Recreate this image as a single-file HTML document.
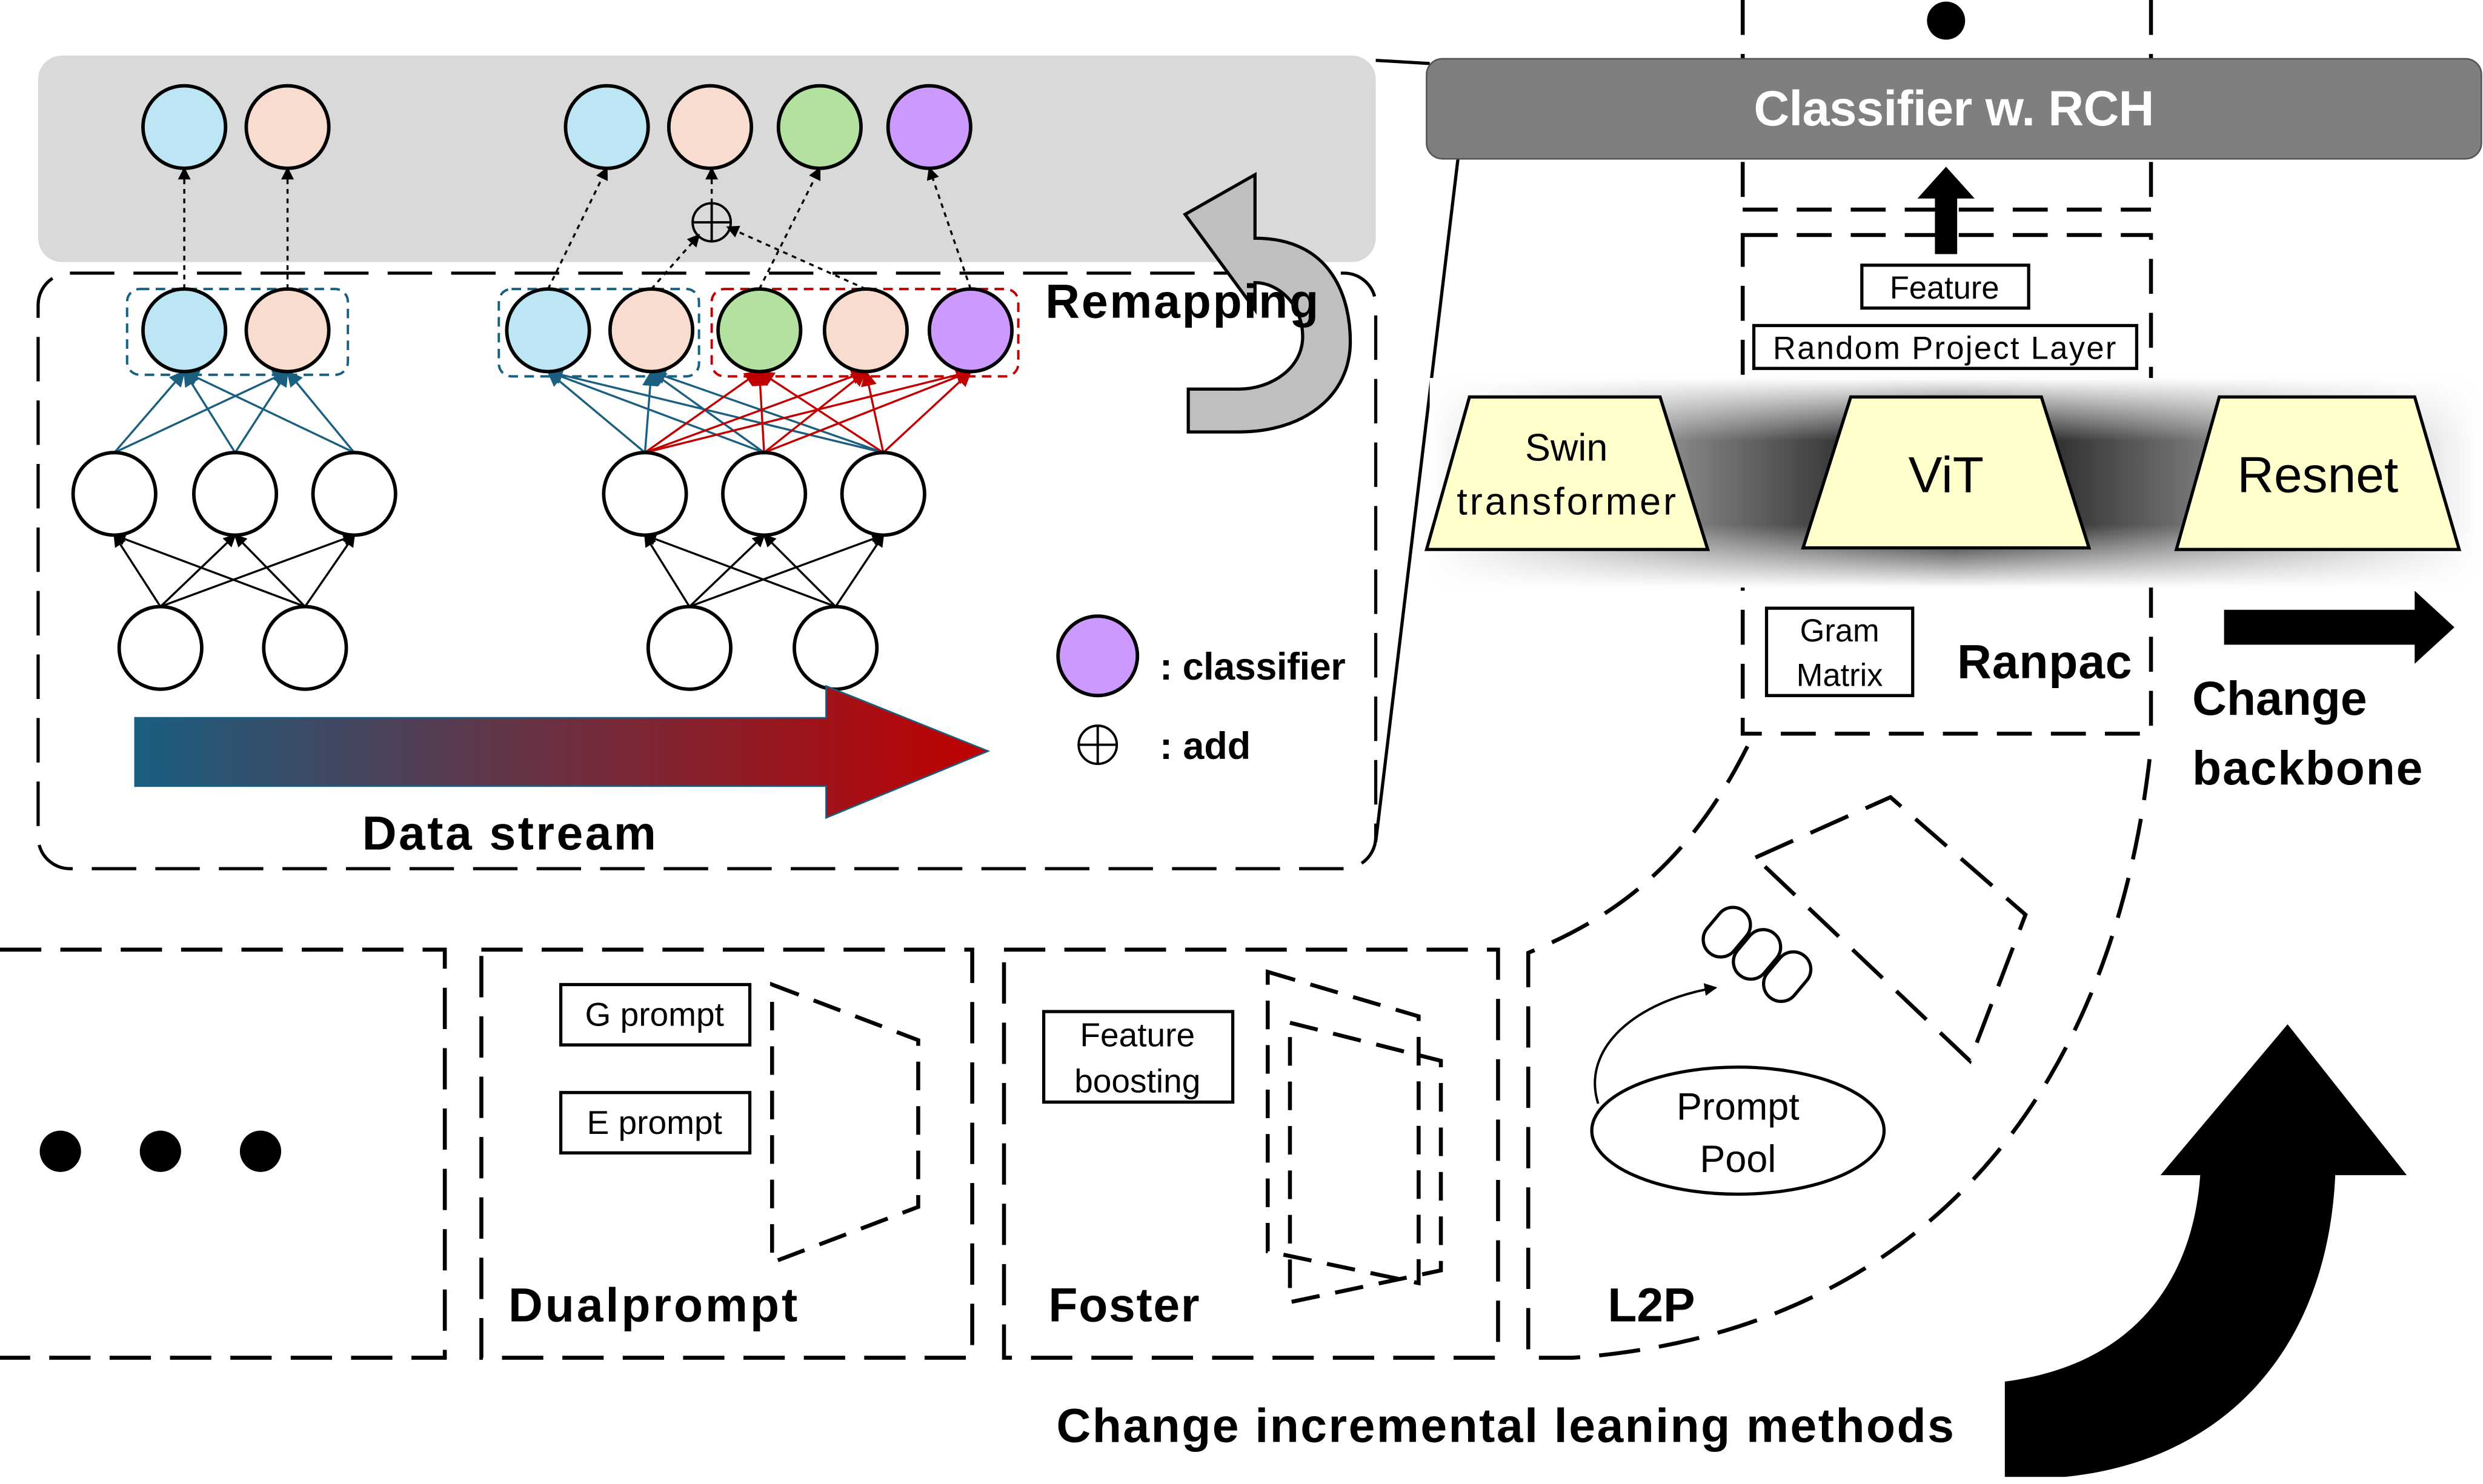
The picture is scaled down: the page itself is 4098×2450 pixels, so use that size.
<!DOCTYPE html>
<html><head><meta charset="utf-8"><style>html,body{margin:0;padding:0;background:#fff}svg{display:block}text{font-family:"Liberation Sans","DejaVu Sans",sans-serif}</style></head><body>
<svg width="4098" height="2450" viewBox="0 0 1563 934.5" preserveAspectRatio="none" xmlns="http://www.w3.org/2000/svg">
<defs>
<linearGradient id="ds" x1="0" x2="1" y1="0" y2="0"><stop offset="0" stop-color="#1a5e80"/><stop offset="1" stop-color="#c00000"/></linearGradient>
<linearGradient id="bandH" x1="0" x2="1"><stop offset="0" stop-color="#fff"/><stop offset="0.2" stop-color="#999"/><stop offset="0.5" stop-color="#000"/><stop offset="0.8" stop-color="#999"/><stop offset="1" stop-color="#fff"/></linearGradient>
<linearGradient id="bandV" x1="0" x2="0" y1="0" y2="1"><stop offset="0" stop-color="#fff" stop-opacity="1"/><stop offset="0.3" stop-color="#fff" stop-opacity="0"/><stop offset="0.7" stop-color="#fff" stop-opacity="0"/><stop offset="1" stop-color="#fff" stop-opacity="1"/></linearGradient>
<marker id="ab" markerWidth="8" markerHeight="8" refX="7" refY="4" orient="auto" markerUnits="userSpaceOnUse"><path d="M0,0 L8,4 L0,8 z" fill="#000"/></marker>
<marker id="abl" markerWidth="10" markerHeight="10" refX="9" refY="5" orient="auto" markerUnits="userSpaceOnUse"><path d="M0,0 L10,5 L0,10 z" fill="#1a5e80"/></marker>
<marker id="ar" markerWidth="10" markerHeight="10" refX="9" refY="5" orient="auto" markerUnits="userSpaceOnUse"><path d="M0,0 L10,5 L0,10 z" fill="#c00000"/></marker>
</defs>

<rect x="24" y="35" width="842" height="130" rx="15" fill="#d9d9d9"/>
<rect x="24" y="172" width="842" height="375" rx="20" fill="none" stroke="#000" stroke-width="2" stroke-dasharray="28,12"/>
<line x1="866" y1="38" x2="900" y2="40" stroke="#000" stroke-width="2"/>
<line x1="866" y1="530" x2="918" y2="98" stroke="#000" stroke-width="2"/>

<g stroke-width="1.3">
<g stroke="#1a5e80" marker-end="url(#abl)">
<line x1="72" y1="285" x2="116" y2="234"/><line x1="72" y1="285" x2="181" y2="234"/>
<line x1="148" y1="285" x2="116" y2="234"/><line x1="148" y1="285" x2="181" y2="234"/>
<line x1="223" y1="285" x2="116" y2="234"/><line x1="223" y1="285" x2="181" y2="234"/>
</g>
<g stroke="#000" marker-end="url(#ab)">
<line x1="101" y1="382" x2="72" y2="337"/><line x1="101" y1="382" x2="148" y2="337"/><line x1="101" y1="382" x2="223" y2="337"/>
<line x1="192" y1="382" x2="72" y2="337"/><line x1="192" y1="382" x2="148" y2="337"/><line x1="192" y1="382" x2="223" y2="337"/>
<line x1="434" y1="382" x2="406" y2="337"/><line x1="434" y1="382" x2="481" y2="337"/><line x1="434" y1="382" x2="556" y2="337"/>
<line x1="526" y1="382" x2="406" y2="337"/><line x1="526" y1="382" x2="481" y2="337"/><line x1="526" y1="382" x2="556" y2="337"/>
</g>
<g stroke="#1a5e80" marker-end="url(#abl)">
<line x1="406" y1="285" x2="345" y2="234"/><line x1="406" y1="285" x2="410" y2="234"/>
<line x1="481" y1="285" x2="345" y2="234"/><line x1="481" y1="285" x2="410" y2="234"/>
<line x1="556" y1="285" x2="345" y2="234"/><line x1="556" y1="285" x2="410" y2="234"/>
</g>
<g stroke="#c00000" marker-end="url(#ar)">
<line x1="406" y1="285" x2="478" y2="234"/><line x1="406" y1="285" x2="545" y2="234"/><line x1="406" y1="285" x2="611" y2="234"/>
<line x1="481" y1="285" x2="478" y2="234"/><line x1="481" y1="285" x2="545" y2="234"/><line x1="481" y1="285" x2="611" y2="234"/>
<line x1="556" y1="285" x2="478" y2="234"/><line x1="556" y1="285" x2="545" y2="234"/><line x1="556" y1="285" x2="611" y2="234"/>
</g>
<g stroke="#000" stroke-dasharray="3,3" marker-end="url(#ab)">
<line x1="116" y1="182" x2="116" y2="106"/><line x1="181" y1="182" x2="181" y2="106"/>
<line x1="345" y1="182" x2="382" y2="106"/><line x1="410" y1="182" x2="440" y2="148"/>
<line x1="478" y1="182" x2="516" y2="106"/><line x1="545" y1="182" x2="458" y2="143"/>
<line x1="611" y1="182" x2="585" y2="106"/><line x1="448" y1="128" x2="448" y2="106"/>
</g>
</g>
<rect x="80" y="182" width="139" height="54" rx="8" fill="none" stroke="#1a5e80" stroke-width="1.5" stroke-dasharray="6,4"/>
<rect x="314" y="182" width="126" height="55" rx="8" fill="none" stroke="#1a5e80" stroke-width="1.5" stroke-dasharray="6,4"/>
<rect x="448" y="182" width="193" height="55" rx="8" fill="none" stroke="#c00000" stroke-width="1.5" stroke-dasharray="6,4"/>
<g stroke="#000" stroke-width="2.2">
<circle cx="116" cy="80" r="26" fill="#bde6f5"/><circle cx="181" cy="80" r="26" fill="#f8dccf"/>
<circle cx="382" cy="80" r="26" fill="#bde6f5"/><circle cx="447" cy="80" r="26" fill="#f8dccf"/><circle cx="516" cy="80" r="26" fill="#b3e2a0"/><circle cx="585" cy="80" r="26" fill="#cc99ff"/>
<circle cx="116" cy="208" r="26" fill="#bde6f5"/><circle cx="181" cy="208" r="26" fill="#f8dccf"/>
<circle cx="345" cy="208" r="26" fill="#bde6f5"/><circle cx="410" cy="208" r="26" fill="#f8dccf"/><circle cx="478" cy="208" r="26" fill="#b3e2a0"/><circle cx="545" cy="208" r="26" fill="#f8dccf"/><circle cx="611" cy="208" r="26" fill="#cc99ff"/>
<circle cx="72" cy="311" r="26" fill="#fff"/><circle cx="148" cy="311" r="26" fill="#fff"/><circle cx="223" cy="311" r="26" fill="#fff"/>
<circle cx="101" cy="408" r="26" fill="#fff"/><circle cx="192" cy="408" r="26" fill="#fff"/>
<circle cx="406" cy="311" r="26" fill="#fff"/><circle cx="481" cy="311" r="26" fill="#fff"/><circle cx="556" cy="311" r="26" fill="#fff"/>
<circle cx="434" cy="408" r="26" fill="#fff"/><circle cx="526" cy="408" r="26" fill="#fff"/>
<circle cx="691" cy="413" r="25" fill="#cc99ff"/>
</g>
<g stroke="#000" stroke-width="1.5" fill="none">
<circle cx="448" cy="140" r="12"/><line x1="436" y1="140" x2="460" y2="140"/><line x1="448" y1="128" x2="448" y2="152"/>
<circle cx="691" cy="469" r="12"/><line x1="679" y1="469" x2="703" y2="469"/><line x1="691" y1="457" x2="691" y2="481"/>
</g>
<path d="M85,452 L520,452 L520,432 L622,473 L520,515 L520,495 L85,495 Z" fill="url(#ds)" stroke="#1a5e80" stroke-width="1"/>
<text x="228" y="535" font-size="30" font-weight="bold" textLength="185">Data stream</text>
<text x="730" y="428" font-size="24" font-weight="bold" textLength="117">: classifier</text>
<text x="730" y="478" font-size="24" font-weight="bold">: add</text>
<path d="M790,150 C840,150 850,190 850,215 C850,250 820,272 780,272 L748,272 L748,245 L780,245 C800,245 820,232 820,212 C820,192 805,178 790,178 L790,195 L746,135 L790,110 Z" fill="#bfbfbf" stroke="#000" stroke-width="2"/>
<text x="658" y="200" font-size="30" font-weight="bold" textLength="172">Remapping</text>

<circle cx="1225" cy="13" r="12" fill="#000"/>
<g stroke="#000" stroke-width="2.5" stroke-dasharray="22,12" fill="none">
<line x1="1097" y1="0" x2="1097" y2="132"/><line x1="1354" y1="0" x2="1354" y2="132"/><line x1="1097" y1="132" x2="1354" y2="132"/>
<rect x="1097" y="148" width="257" height="314"/>
</g>
<rect x="898" y="37" width="664" height="63" rx="10" fill="#7f7f7f" stroke="#555" stroke-width="1"/>
<text x="1230" y="79" font-size="31" font-weight="bold" fill="#fff" text-anchor="middle" textLength="252">Classifier w. RCH</text>
<path d="M1218,160 L1218,125 L1207,125 L1225,105 L1243,125 L1232,125 L1232,160 Z" fill="#000"/>
<rect x="1172" y="167" width="105" height="27" fill="#fff" stroke="#000" stroke-width="2"/>
<text x="1224" y="188" font-size="20" text-anchor="middle">Feature</text>
<rect x="1104" y="205" width="241" height="27" fill="#fff" stroke="#000" stroke-width="2"/>
<text x="1224" y="226" font-size="20" text-anchor="middle" textLength="216">Random Project Layer</text>
<rect x="900" y="238" width="660" height="132" fill="url(#bandH)"/>
<rect x="900" y="238" width="660" height="132" fill="url(#bandV)"/>
<g fill="#ffffcc" stroke="#000" stroke-width="2">
<path d="M925,250 L1045,250 L1075,346 L898,346 Z"/>
<path d="M1165,250 L1285,250 L1315,345 L1135,345 Z"/>
<path d="M1397,250 L1520,250 L1548,346 L1370,346 Z"/>
</g>
<text x="986" y="290" font-size="24" text-anchor="middle">Swin</text>
<text x="986" y="324" font-size="24" text-anchor="middle" textLength="138">transformer</text>
<text x="1225" y="310" font-size="32" text-anchor="middle">ViT</text>
<text x="1459" y="310" font-size="32" text-anchor="middle">Resnet</text>
<rect x="1112" y="383" width="92" height="55" fill="#fff" stroke="#000" stroke-width="2"/>
<text x="1158" y="404" font-size="20" text-anchor="middle">Gram</text>
<text x="1158" y="432" font-size="20" text-anchor="middle">Matrix</text>
<text x="1287" y="427" font-size="30" font-weight="bold" text-anchor="middle" textLength="110">Ranpac</text>
<path d="M1400,384 L1520,384 L1520,372 L1545,395 L1520,418 L1520,406 L1400,406 Z" fill="#000"/>
<text x="1380" y="450" font-size="30" font-weight="bold" textLength="110">Change</text>
<text x="1380" y="494" font-size="30" font-weight="bold" textLength="145">backbone</text>

<g stroke="#000" stroke-width="2.5" stroke-dasharray="26,12" fill="none">
<path d="M0,598 L280,598 L280,855 L0,855"/>
<rect x="303" y="598" width="309" height="257"/>
<rect x="632" y="598" width="311" height="257"/>
<path d="M1100,470 C1060,550 1010,580 962,600 L962,855 L990,855 C1200,840 1330,700 1354,470"/>
<path d="M1105,540 L1190,502 L1275,576 L1240,668 Z"/>
<path d="M486,620 L578,655 L578,760 L486,795 Z" stroke-dasharray="18,10"/>
<path d="M798,612 L893,640 L893,808 L798,788 Z" stroke-dasharray="18,10"/>
<path d="M812,644 L907,668 L907,800 L812,820 Z" stroke-dasharray="18,10"/>
</g>
<g fill="#fff" stroke="#000" stroke-width="2">
<rect x="353" y="620" width="119" height="38"/><rect x="353" y="688" width="119" height="38"/>
<rect x="657" y="637" width="119" height="57"/>
<ellipse cx="1094" cy="712" rx="92" ry="40"/>
<rect x="1076" y="570" width="22" height="34" rx="11" transform="rotate(40 1087 587)"/>
<rect x="1095" y="584" width="22" height="34" rx="11" transform="rotate(40 1106 601)"/>
<rect x="1114" y="598" width="22" height="34" rx="11" transform="rotate(40 1125 615)"/>
</g>
<path d="M1006,695 C995,660 1030,630 1080,622" fill="none" stroke="#000" stroke-width="1.5" marker-end="url(#ab)"/>
<text x="412" y="646" font-size="21" text-anchor="middle">G prompt</text>
<text x="412" y="714" font-size="21" text-anchor="middle">E prompt</text>
<text x="716" y="659" font-size="21" text-anchor="middle">Feature</text>
<text x="716" y="688" font-size="21" text-anchor="middle">boosting</text>
<text x="1094" y="705" font-size="24" text-anchor="middle">Prompt</text>
<text x="1094" y="738" font-size="24" text-anchor="middle">Pool</text>
<text x="320" y="832" font-size="30" font-weight="bold" textLength="182">Dualprompt</text>
<text x="660" y="832" font-size="30" font-weight="bold" textLength="95">Foster</text>
<text x="1012" y="832" font-size="30" font-weight="bold">L2P</text>
<circle cx="38" cy="725" r="13" fill="#000"/><circle cx="101" cy="725" r="13" fill="#000"/><circle cx="164" cy="725" r="13" fill="#000"/>
<path d="M1262,930 L1262,870 C1340,860 1380,810 1385,740 L1360,740 L1440,645 L1515,740 L1470,740 C1465,850 1400,920 1300,930 Z" fill="#000"/>
<text x="665" y="908" font-size="30" font-weight="bold" textLength="565">Change incremental leaning methods</text>
</svg>
</body></html>
